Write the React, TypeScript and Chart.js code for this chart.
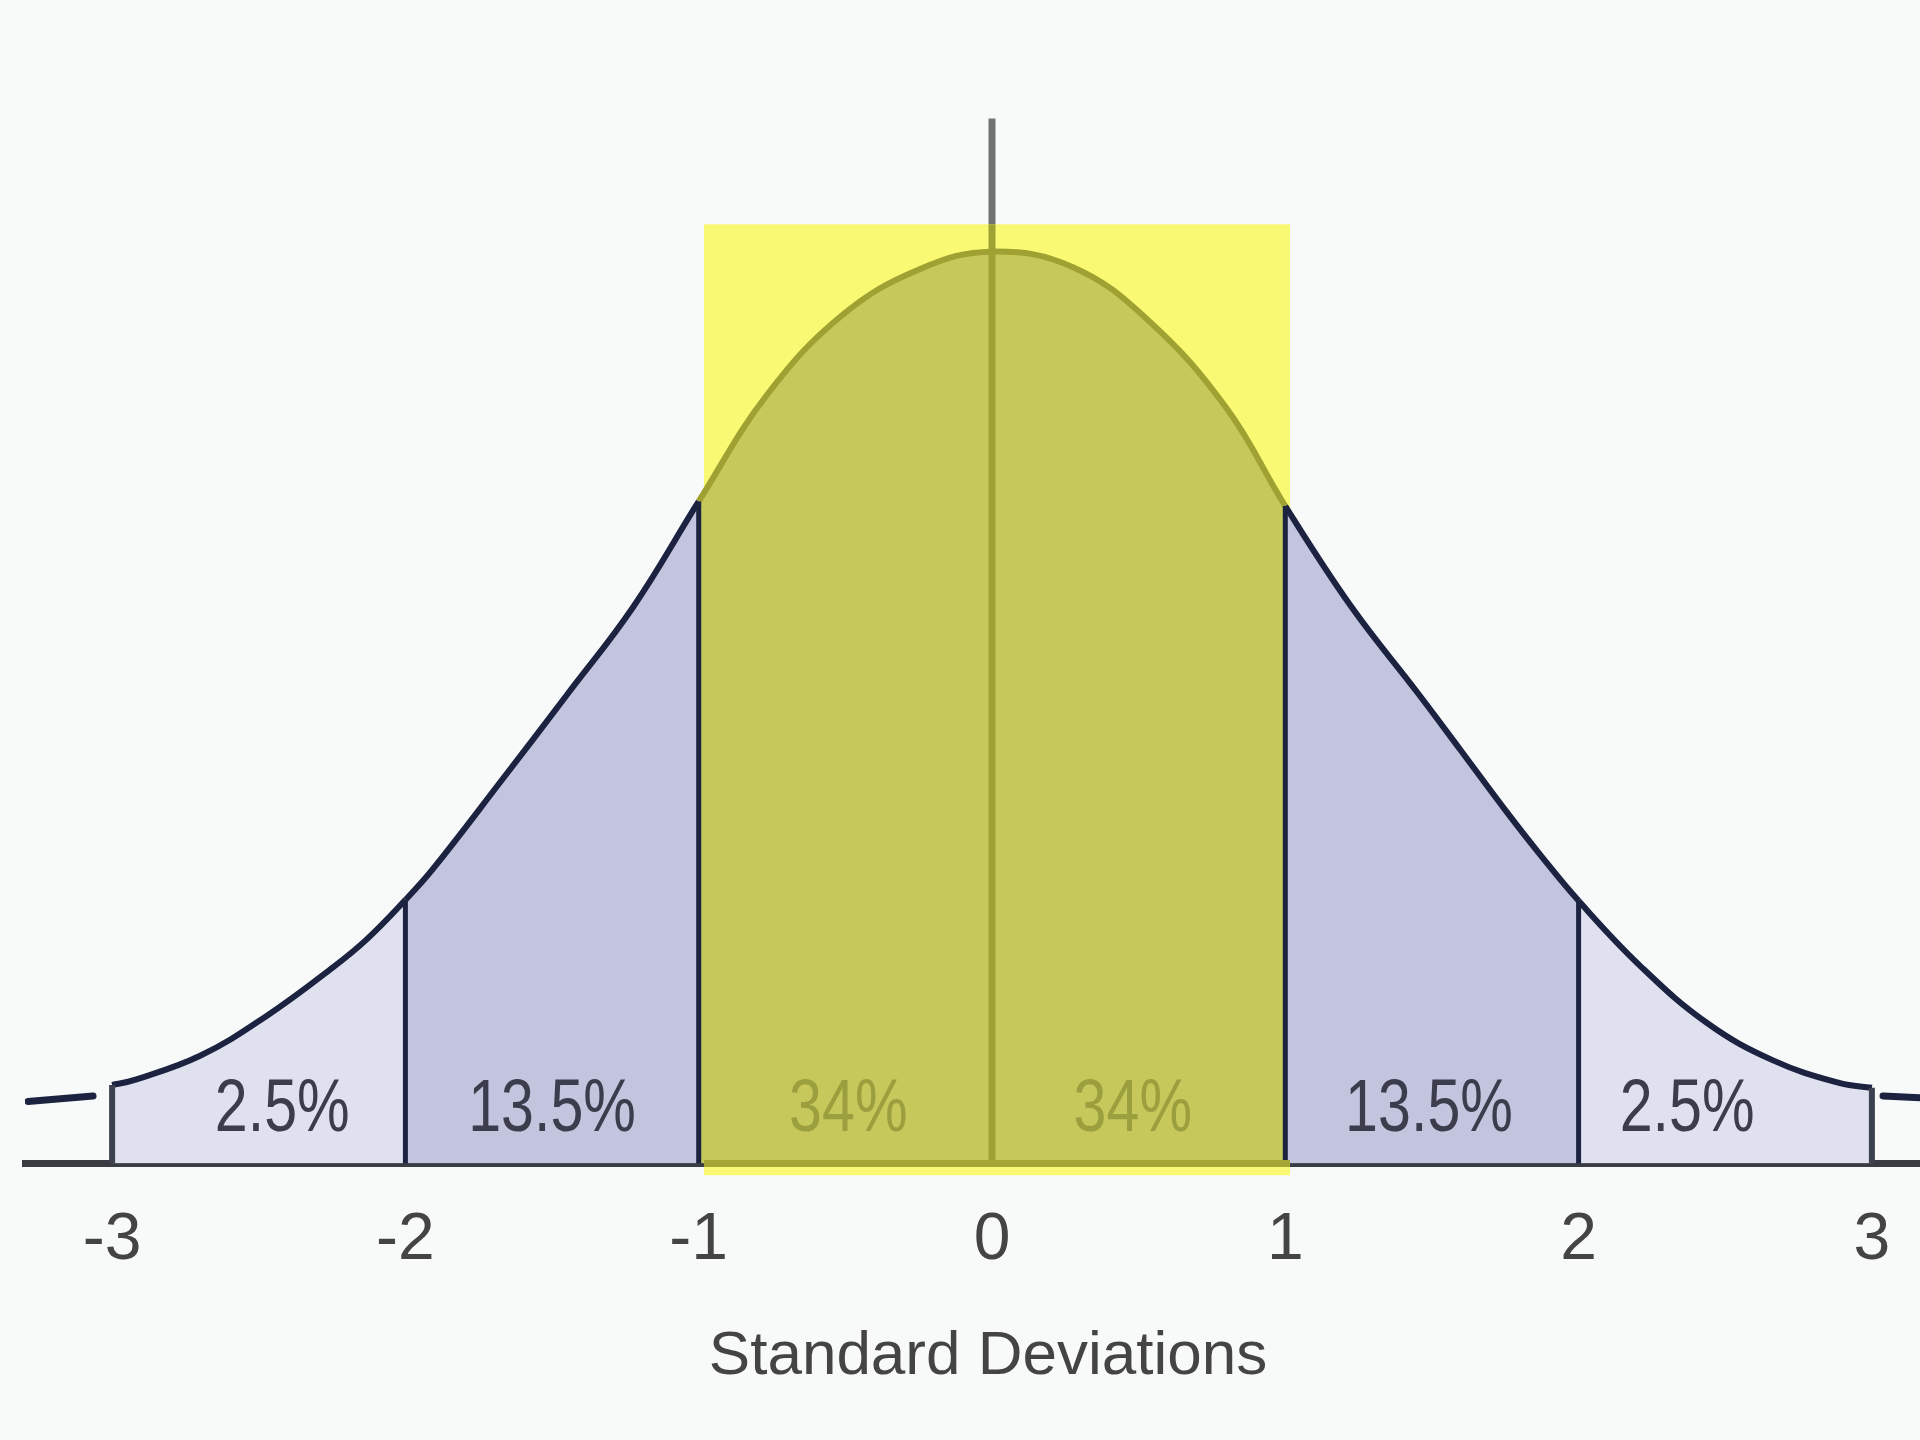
import React, { useEffect, useRef } from "react";
import { Chart, registerables } from "chart.js";

Chart.register(...registerables);

// ---- data (x in standard deviations, y in % of peak height) ----
const CURVE_X = [
  -3.0, -2.929, -2.7, -2.472, -2.247, -2.131, -2.0, -1.906, -1.677, -1.449,
  -1.224, -1.0, -0.767, -0.508, -0.245, 0, 0.276, 0.535, 0.798, 1.0,
  1.224, 1.449, 1.596, 1.756, 1.868, 2.0, 2.209, 2.438, 2.663, 2.891, 3.0,
];
const CURVE_Y = [
  8.6, 9.1, 11.8, 16.2, 21.5, 24.6, 28.9, 32.3, 41.8, 51.4,
  61.0, 72.6, 84.3, 93.1, 98.1, 100, 98.3, 92.4, 82.9, 72.1,
  61.1, 51.7, 45.4, 38.5, 33.9, 28.8, 21.7, 15.4, 11.3, 8.8, 8.3,
];
const LEFT_STUB_X = [-3.287, -3.065];
const LEFT_STUB_Y = [6.8, 7.4];
const RIGHT_STUB_X = [3.038, 3.164];
const RIGHT_STUB_Y = [7.4, 7.2];
const TICK_VALUES = [-3, -2, -1, 0, 1, 2, 3];
const BOUNDARIES = [-3, -2, -1, 1, 2, 3];
const REGION_LABELS = ["2.5%", "13.5%", "34%", "34%", "13.5%", "2.5%"];
const REGION_LABEL_X = [-2.42, -1.5, -0.49, 0.48, 1.49, 2.37];
const LABEL_BASELINE_Y = 3.6;
const HIGHLIGHT_X = [-0.982, 1.016];
const HIGHLIGHT_TOP = 103.0;
const HIGHLIGHT_BOTTOM = -1.3;
const MEAN_LINE_TOP = 114.6;
const X_MIN = -3.297;
const X_MAX = 3.164;
const Y_MAX = 127.6;
const AXIS_TITLE = "Standard Deviations";

// ---- styles ----
const BG = "#f8fafa";
const NAVY = "#1c2340";
const OLIVE_LINE = "#9fa232";
const TAIL_FILL = "#dfe1ef";
const MID_FILL = "#c3c4de";
const CENTER_FILL = "#c6c85c";
const YELLOW = "#f9f974";
const TEXT = "#444444";
const FONT = '"Liberation Sans", Arial, sans-serif';

function region(mid: number): number {
  const a = Math.abs(mid);
  if (a > 3) return 3;
  if (a > 2) return 2;
  if (a > 1) return 1;
  return 0;
}

const overlayPlugin = {
  id: "overlay",
  beforeDraw(chart: any) {
    const ctx = chart.ctx;
    ctx.save();
    ctx.fillStyle = BG;
    ctx.fillRect(0, 0, chart.width, chart.height);
    ctx.restore();
  },
  beforeDatasetsDraw(chart: any) {
    const ctx = chart.ctx;
    const xs = chart.scales.x;
    const ys = chart.scales.y;
    const l = xs.getPixelForValue(HIGHLIGHT_X[0]);
    const r = xs.getPixelForValue(HIGHLIGHT_X[1]);
    const t = ys.getPixelForValue(HIGHLIGHT_TOP);
    const b = ys.getPixelForValue(HIGHLIGHT_BOTTOM);
    ctx.save();
    ctx.fillStyle = YELLOW;
    ctx.fillRect(l, t, r - l, b - t);
    ctx.restore();
  },
  afterDraw(chart: any) {
    const ctx = chart.ctx;
    const xs = chart.scales.x;
    const ys = chart.scales.y;
    const y0 = ys.getPixelForValue(0);
    ctx.save();
    // boundary lines
    BOUNDARIES.forEach((bv) => {
      const idx = CURVE_X.indexOf(bv);
      if (idx < 0) return;
      const px = xs.getPixelForValue(bv);
      const py = ys.getPixelForValue(CURVE_Y[idx]);
      ctx.beginPath();
      ctx.strokeStyle = Math.abs(bv) === 3 ? "#3d4250" : NAVY;
      ctx.lineWidth = Math.abs(bv) === 3 ? 6 : 5;
      ctx.moveTo(px, y0);
      ctx.lineTo(px, py);
      ctx.stroke();
    });
    // axis part under highlight
    const hl = xs.getPixelForValue(HIGHLIGHT_X[0]);
    const hr = xs.getPixelForValue(HIGHLIGHT_X[1]);
    ctx.beginPath();
    ctx.strokeStyle = "#a3a534";
    ctx.lineWidth = 7;
    ctx.moveTo(hl, y0);
    ctx.lineTo(hr, y0);
    ctx.stroke();
    // mean line
    const mx = xs.getPixelForValue(0);
    const top = ys.getPixelForValue(MEAN_LINE_TOP);
    const ht = ys.getPixelForValue(HIGHLIGHT_TOP);
    ctx.lineWidth = 7;
    ctx.beginPath();
    ctx.strokeStyle = "#707272";
    ctx.moveTo(mx, top);
    ctx.lineTo(mx, ht);
    ctx.stroke();
    ctx.beginPath();
    ctx.strokeStyle = OLIVE_LINE;
    ctx.moveTo(mx, ht);
    ctx.lineTo(mx, y0 - 3);
    ctx.stroke();
    // region labels (condensed)
    ctx.font = `74px ${FONT}`;
    ctx.textAlign = "center";
    ctx.textBaseline = "alphabetic";
    const sx = 0.8;
    REGION_LABELS.forEach((lab, i) => {
      const v = REGION_LABEL_X[i];
      ctx.save();
      ctx.fillStyle = Math.abs(v) < 1 ? "#9c9f3e" : "#3c3d4c";
      ctx.translate(xs.getPixelForValue(v), ys.getPixelForValue(LABEL_BASELINE_Y));
      ctx.scale(sx, 1);
      ctx.fillText(lab, 0, 0);
      ctx.restore();
    });
    ctx.restore();
  },
};

export default function App() {
  const ref = useRef<HTMLCanvasElement>(null);
  useEffect(() => {
    document.body.style.margin = "0";
    const canvas = ref.current;
    if (!canvas) return;
    const stub = (xs: number[], ys: number[]) => ({
      data: xs.map((x, i) => ({ x, y: ys[i] })),
      borderColor: NAVY,
      borderWidth: 7,
      pointRadius: 0,
      fill: false,
      borderCapStyle: "round",
    });
    const chart = new Chart(canvas, {
      type: "line",
      data: {
        datasets: [
          {
            data: CURVE_X.map((x, i) => ({ x, y: CURVE_Y[i] })),
            borderColor: NAVY,
            borderWidth: 6,
            pointRadius: 0,
            tension: 0.4,
            fill: "origin",
            backgroundColor: "rgba(0,0,0,0)",
            segment: {
              backgroundColor: (c: any) => {
                const m = (CURVE_X[c.p0DataIndex] + CURVE_X[c.p1DataIndex]) / 2;
                return [CENTER_FILL, MID_FILL, TAIL_FILL, "rgba(0,0,0,0)"][region(m)];
              },
              borderColor: (c: any) => {
                const m = (CURVE_X[c.p0DataIndex] + CURVE_X[c.p1DataIndex]) / 2;
                return region(m) === 0 ? OLIVE_LINE : NAVY;
              },
            },
          } as any,
          stub(LEFT_STUB_X, LEFT_STUB_Y) as any,
          stub(RIGHT_STUB_X, RIGHT_STUB_Y) as any,
        ],
      },
      options: {
        responsive: false,
        animation: false,
        devicePixelRatio: 1,
        layout: { padding: { left: 25, right: 0, top: 0, bottom: 46 } },
        plugins: { legend: { display: false }, tooltip: { enabled: false } },
        scales: {
          x: {
            type: "linear",
            min: X_MIN,
            max: X_MAX,
            z: 1,
            grid: { display: false, drawTicks: false },
            border: { display: true, color: "#3a3c44", width: 7 },
            afterBuildTicks: (s: any) => {
              s.ticks = TICK_VALUES.map((v) => ({ value: v }));
            },
            afterFit: (s: any) => {
              s.paddingLeft = 0;
              s.paddingRight = 0;
            },
            ticks: {
              font: { size: 66, family: FONT },
              color: TEXT,
              padding: 38,
              maxRotation: 0,
              autoSkip: false,
              callback: (v: any) => String(v),
            },
            title: {
              display: true,
              text: "\u2002" + AXIS_TITLE,
              color: TEXT,
              font: { size: 62, family: FONT },
              padding: { top: 1, bottom: 0 },
            },
          },
          y: { display: false, min: 0, max: Y_MAX },
        },
      },
      plugins: [overlayPlugin],
    } as any);
    return () => chart.destroy();
  }, []);
  return (
    <div style={{ width: 1920, height: 1440 }}>
      <canvas ref={ref} width={1920} height={1440} style={{ display: "block" }} />
    </div>
  );
}
